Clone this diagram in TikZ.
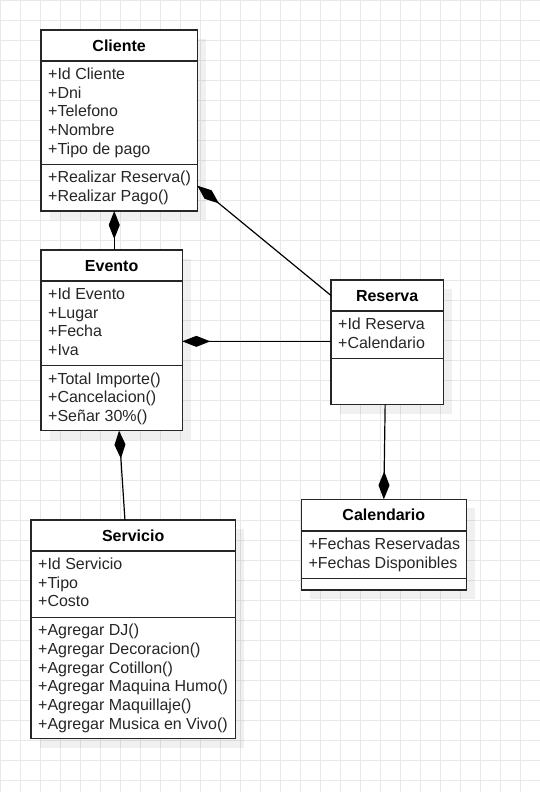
\documentclass[tikz,border=0pt]{standalone}
\usepackage{fontspec}
\setmainfont{Liberation Sans}
\usetikzlibrary{arrows.meta,backgrounds}
\tikzset{
  compart/.style={draw=black!85, line width=1.4pt, fill=white, anchor=north west,
    inner sep=0pt, outer sep=0pt},
  classname/.style={compart, minimum height=31pt, text=black,
    font=\fontsize{16}{18.7}\selectfont\bfseries, text height=11.6pt, text depth=0pt},
  member/.style={anchor=base west, inner sep=0pt, text=black!85,
    font=\fontsize{16}{18.7}\selectfont},
  gridline/.style={draw=black!9, line width=1pt},
  shadowbox/.style={fill=black, fill opacity=0.06},
  composition/.style={draw=black, line width=1.2pt, {Diamond[length=28pt,width=11pt]}-},
}
\begin{document}
\begin{tikzpicture}[x=1pt, y=-1pt]
\useasboundingbox (0,0) rectangle (540,792);

% Cliente
\node[classname, minimum width=156.3pt] (cliente) at (41,30) {Cliente};
\node[compart, minimum width=156.3pt, minimum height=103.3pt] (cliente-attr) at (cliente.south west) {};
\node[compart, minimum width=156.3pt, minimum height=46.7pt] (cliente-ops) at (cliente-attr.south west) {};
\foreach \t [count=\i, evaluate=\i as \yy using {18.3+(\i-1)*18.7}] in {+Id Cliente,+Dni,+Telefono,+Nombre,+Tipo de pago}
  \node[member] (cliente-a\i) at ([shift={(7,\yy)}]cliente-attr.north west) {\t};
\foreach \t [count=\i, evaluate=\i as \yy using {18.3+(\i-1)*18.7}] in {+Realizar Reserva(),+Realizar Pago()}
  \node[member] (cliente-m\i) at ([shift={(7,\yy)}]cliente-ops.north west) {\t};

% Evento
\node[classname, minimum width=141.3pt] (evento) at (41,250) {Evento};
\node[compart, minimum width=141.3pt, minimum height=84.7pt] (evento-attr) at (evento.south west) {};
\node[compart, minimum width=141.3pt, minimum height=65pt] (evento-ops) at (evento-attr.south west) {};
\foreach \t [count=\i, evaluate=\i as \yy using {18.3+(\i-1)*18.7}] in {+Id Evento,+Lugar,+Fecha,+Iva}
  \node[member] (evento-a\i) at ([shift={(7,\yy)}]evento-attr.north west) {\t};
\foreach \t [count=\i, evaluate=\i as \yy using {18.3+(\i-1)*18.7}] in {+Total Importe(),+Cancelacion(),+Señar 30\%()}
  \node[member] (evento-m\i) at ([shift={(7,\yy)}]evento-ops.north west) {\t};

% Reserva
\node[classname, minimum width=112.3pt] (reserva) at (331,280) {Reserva};
\node[compart, minimum width=112.3pt, minimum height=47.7pt] (reserva-attr) at (reserva.south west) {};
\node[compart, minimum width=112.3pt, minimum height=46pt] (reserva-ops) at (reserva-attr.south west) {};
\foreach \t [count=\i, evaluate=\i as \yy using {18.3+(\i-1)*18.7}] in {+Id Reserva,+Calendario}
  \node[member] (reserva-a\i) at ([shift={(7,\yy)}]reserva-attr.north west) {\t};

% Servicio
\node[classname, minimum width=204.3pt] (servicio) at (31,520) {Servicio};
\node[compart, minimum width=204.3pt, minimum height=66.3pt] (servicio-attr) at (servicio.south west) {};
\node[compart, minimum width=204.3pt, minimum height=121.4pt] (servicio-ops) at (servicio-attr.south west) {};
\foreach \t [count=\i, evaluate=\i as \yy using {18.3+(\i-1)*18.7}] in {+Id Servicio,+Tipo,+Costo}
  \node[member] (servicio-a\i) at ([shift={(7,\yy)}]servicio-attr.north west) {\t};
\foreach \t [count=\i, evaluate=\i as \yy using {18.3+(\i-1)*18.7}] in {+Agregar DJ(),+Agregar Decoracion(),+Agregar Cotillon(),+Agregar Maquina Humo(),+Agregar Maquillaje(),+Agregar Musica en Vivo()}
  \node[member] (servicio-m\i) at ([shift={(7,\yy)}]servicio-ops.north west) {\t};

% Calendario
\node[classname, minimum width=165pt, minimum height=31.7pt] (calendario) at (301.3,499.3) {Calendario};
\node[compart, minimum width=165pt, minimum height=47.7pt] (calendario-attr) at (calendario.south west) {};
\node[compart, minimum width=165pt, minimum height=11.3pt] (calendario-ops) at (calendario-attr.south west) {};
\foreach \t [count=\i, evaluate=\i as \yy using {18.3+(\i-1)*18.7}] in {+Fechas Reservadas,+Fechas Disponibles}
  \node[member] (calendario-a\i) at ([shift={(7,\yy)}]calendario-attr.north west) {\t};

% composiciones
\coordinate (cl-ev) at ([xshift=-4.9pt]cliente-ops.south);
\coordinate (ev-re) at ([yshift=-18pt]evento-attr.east);
\draw[composition] (cl-ev) -- (cl-ev |- evento.north);
\draw[composition] ([yshift=2pt]cliente-ops.east) -- (reserva.west);
\draw[composition] (ev-re) -- (ev-re -| reserva-attr.west);
\draw[composition] ([xshift=7.4pt]evento-ops.south) -- ([xshift=-8.2pt]servicio.north);
\draw[composition] (calendario.north) -- ([xshift=-2pt]reserva-ops.south);

\begin{scope}[on background layer]
  \fill[white] (0,0) rectangle (540,792);
  \foreach \gx in {0,...,27} \draw[gridline] (0.7+\gx*20,0) -- (0.7+\gx*20,792);
  \foreach \gy in {0,...,39} \draw[gridline] (0,0.7+\gy*20) -- (540,0.7+\gy*20);
  \foreach \c in {cliente,evento,reserva,servicio,calendario}
    \fill[shadowbox] ([shift={(9,9)}]\c.north west) rectangle ([shift={(9,9)}]\c-ops.south east);
\end{scope}
\end{tikzpicture}
\end{document}
